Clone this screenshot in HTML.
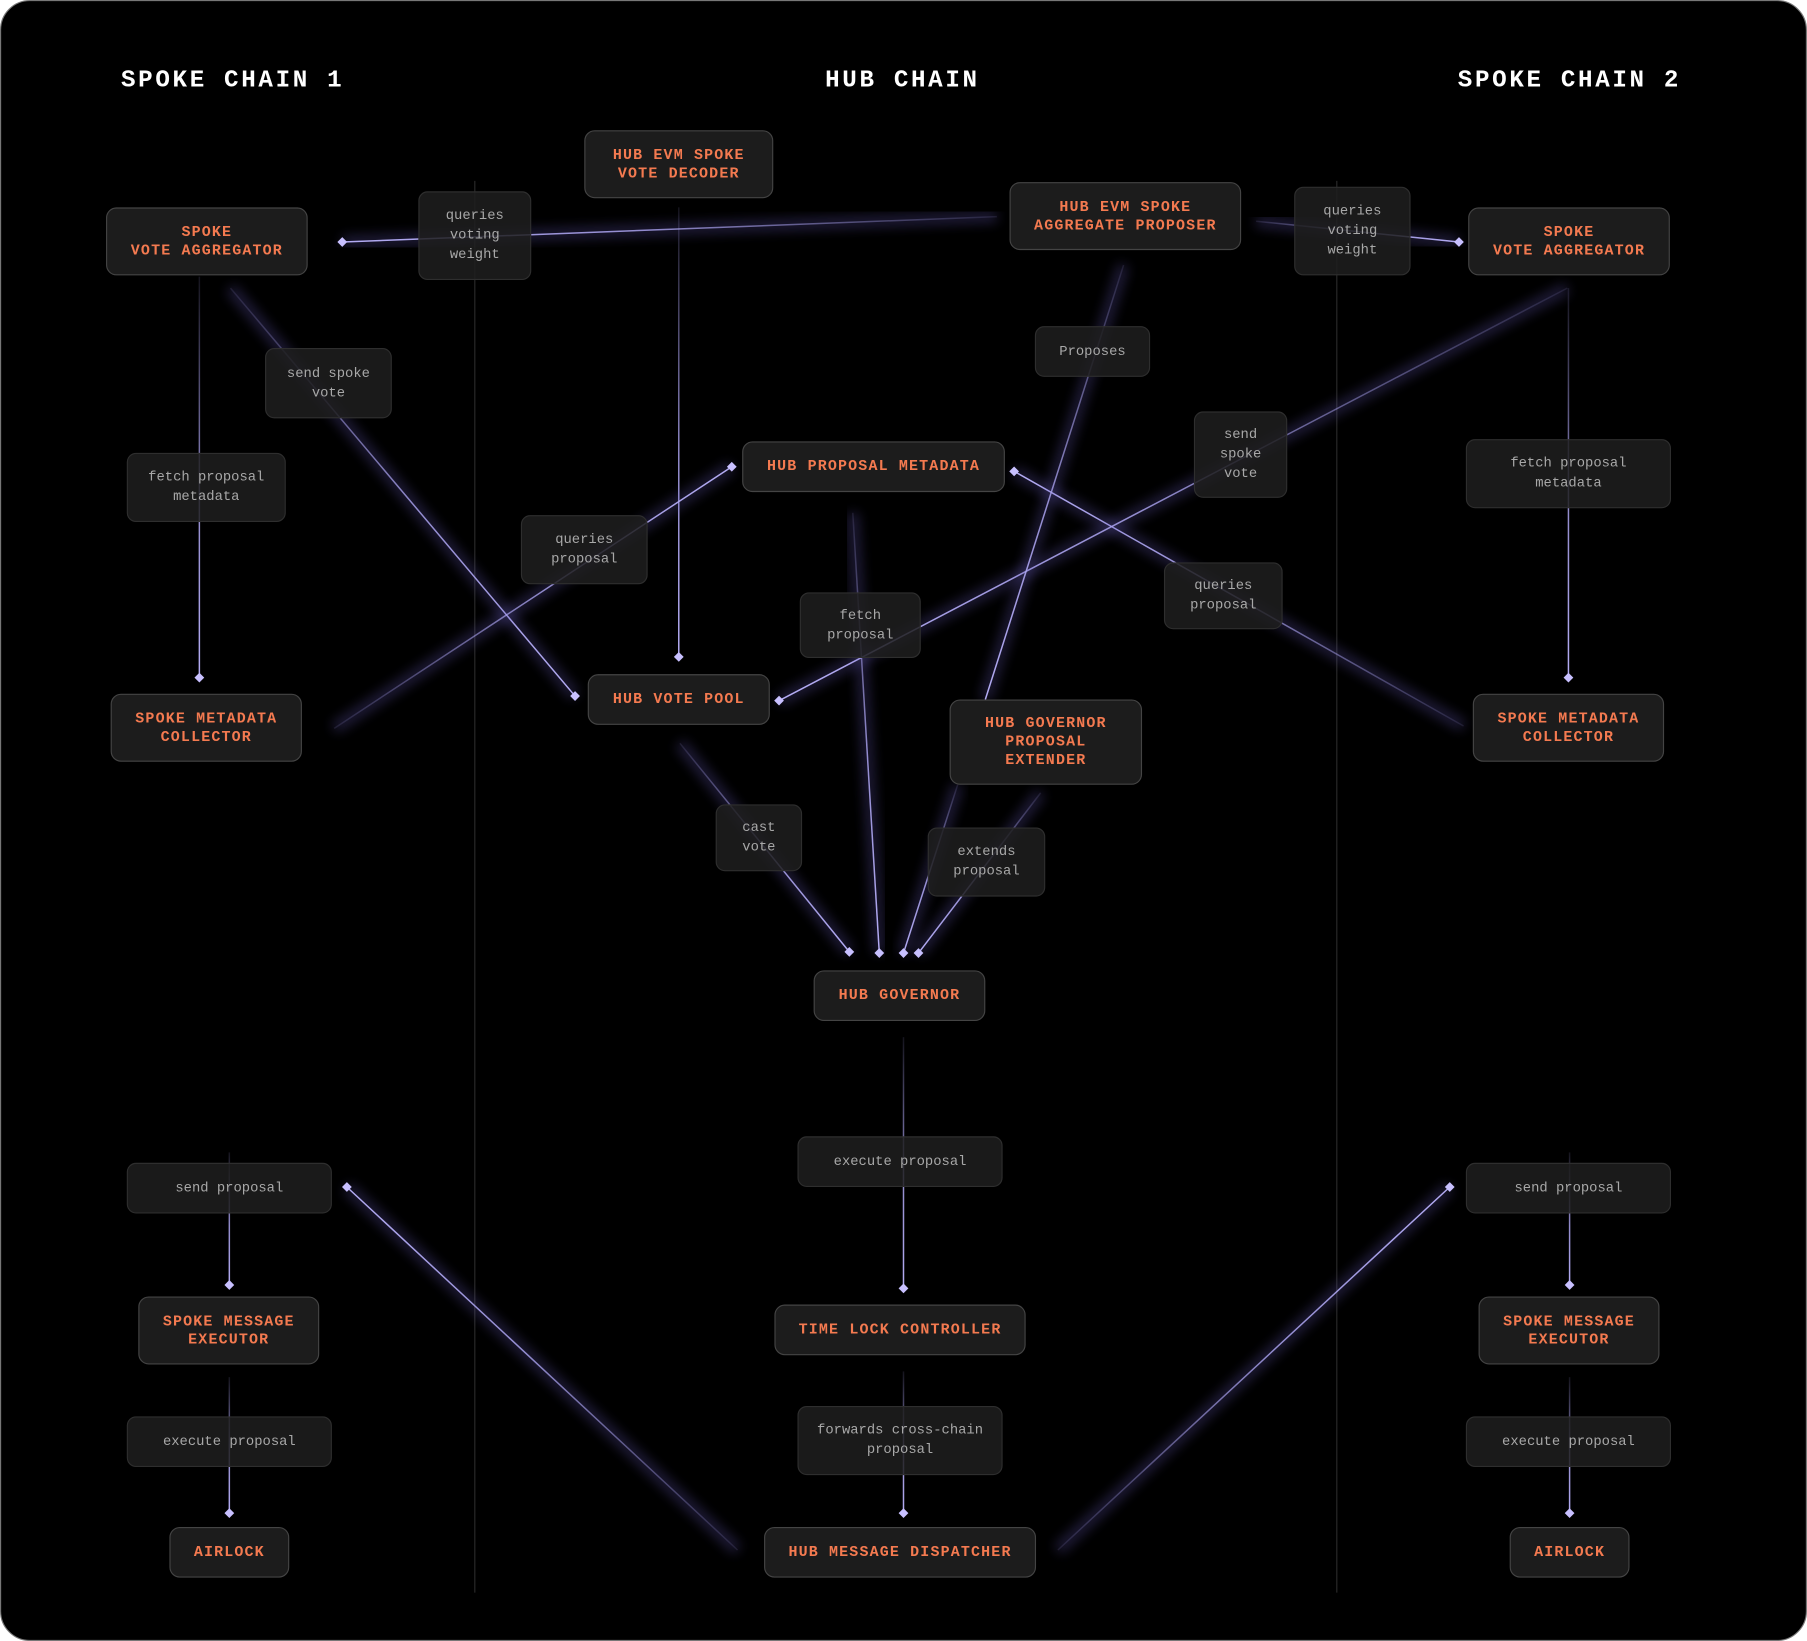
<!DOCTYPE html>
<html><head><meta charset="utf-8"><style>
html,body{margin:0;padding:0;background:#fff;}
#wrap{width:1807px;height:1641px;overflow:hidden;position:relative;background:#fff}
#c{position:absolute;left:0;top:0;width:1568px;height:1424px;transform:scale(1.15242);transform-origin:0 0;}
#bg{position:absolute;left:0;top:0;width:1566px;height:1422px;background:#000;border:1px solid #777;border-radius:26px;}
.t{position:absolute;color:#fff;font-family:"Liberation Mono",monospace;font-weight:bold;font-size:21px;letter-spacing:2.3px;top:59px;}
.n{position:absolute;box-sizing:border-box;background:#1c1c1c;border:1px solid #444;border-radius:9px;color:#f47a50;font-family:"Liberation Mono",monospace;font-weight:bold;font-size:13px;letter-spacing:1px;line-height:16px;display:flex;align-items:center;justify-content:center;text-align:center;}
.l{position:absolute;box-sizing:border-box;background:rgba(30,30,30,0.85);border:1px solid #2e2e2e;border-radius:8px;color:#a8a8a8;font-family:"Liberation Mono",monospace;font-size:12px;line-height:17px;display:flex;align-items:center;justify-content:center;text-align:center;}
svg{position:absolute;left:0;top:0}
</style></head><body><div id="wrap"><div id="c">
<div id="bg"></div>
<svg width="1568" height="1424" id="s">
<defs><filter id="g" x="-20%" y="-20%" width="140%" height="140%"><feGaussianBlur stdDeviation="5"/></filter></defs>
<line x1="412" y1="157" x2="412" y2="1382" stroke="#2a2a2a" stroke-width="1"/>
<line x1="1160" y1="157" x2="1160" y2="1382" stroke="#2a2a2a" stroke-width="1"/>
<g id="E"></g>
</svg>
<script>
var L=[[865,188,297,210],[1090,192,1266,210],[589,180,589,570],[173,240,173,588],[200,250,499,604],[290,632,635,405],[1270,630,880,409],[1360,250,676,608],[975,230,855,607,0],[831,681,784,827],[740,445,763,827],[590,645,737,826],[903,688,797,827],[1361,250,1361,588],[784,900,784,1118],[784,1190,784,1313],[199,1000,199,1115],[199,1195,199,1313],[1362,1000,1362,1115],[1362,1195,1362,1313],[640,1345,301,1030],[918,1345,1258,1030]];
var ns="http://www.w3.org/2000/svg",s=document.getElementById("s"),E=document.getElementById("E"),d=s.querySelector("defs"),h="";
L.forEach(function(a,i){
 d.insertAdjacentHTML("beforeend",'<linearGradient id="lg'+i+'" gradientUnits="userSpaceOnUse" x1="'+a[0]+'" y1="'+a[1]+'" x2="'+a[2]+'" y2="'+a[3]+'"><stop offset="0" stop-color="#aaa2ee" stop-opacity="0.12"/><stop offset="0.55" stop-color="#aaa2ee" stop-opacity="0.85"/><stop offset="1" stop-color="#b4acf4" stop-opacity="1"/></linearGradient>');
 var p='M'+a[0]+' '+a[1]+'L'+a[2]+' '+a[3];
 h+='<path d="'+p+'" stroke="#6a5fc0" stroke-width="10" opacity="0.3" filter="url(#g)" fill="none"/>';
 h+='<path d="'+p+'" stroke="url(#lg'+i+')" stroke-width="1.3" fill="none"/>';
 if(a.length<5)h+='<rect x="'+(a[2]-3)+'" y="'+(a[3]-3)+'" width="6" height="6" fill="#c8c0ff" transform="rotate(45 '+a[2]+' '+a[3]+')"/>';
});
E.innerHTML=h;
</script>
<div class="t" style="left:105px">SPOKE CHAIN 1</div>
<div class="t" style="left:716px">HUB CHAIN</div>
<div class="t" style="left:1265px">SPOKE CHAIN 2</div>

<div class="l" style="left:363px;top:166px;width:98px;height:77px">queries<br>voting<br>weight</div>
<div class="l" style="left:1123px;top:162px;width:101px;height:77px">queries<br>voting<br>weight</div>
<div class="l" style="left:230px;top:302px;width:110px;height:61px">send spoke<br>vote</div>
<div class="l" style="left:110px;top:393px;width:138px;height:60px">fetch proposal<br>metadata</div>
<div class="l" style="left:898px;top:283px;width:100px;height:44px">Proposes</div>
<div class="l" style="left:1036px;top:357px;width:81px;height:75px">send<br>spoke<br>vote</div>
<div class="l" style="left:1272px;top:381px;width:178px;height:60px">fetch proposal<br>metadata</div>
<div class="l" style="left:452px;top:447px;width:110px;height:60px">queries<br>proposal</div>
<div class="l" style="left:694px;top:514px;width:105px;height:57px">fetch<br>proposal</div>
<div class="l" style="left:1010px;top:488px;width:103px;height:58px">queries<br>proposal</div>
<div class="l" style="left:621px;top:698px;width:75px;height:58px">cast<br>vote</div>
<div class="l" style="left:805px;top:718px;width:102px;height:60px">extends<br>proposal</div>
<div class="l" style="left:692px;top:986px;width:178px;height:44px">execute proposal</div>
<div class="l" style="left:110px;top:1009px;width:178px;height:44px">send proposal</div>
<div class="l" style="left:1272px;top:1009px;width:178px;height:44px">send proposal</div>
<div class="l" style="left:692px;top:1220px;width:178px;height:60px">forwards cross-chain<br>proposal</div>
<div class="l" style="left:110px;top:1229px;width:178px;height:44px">execute proposal</div>
<div class="l" style="left:1272px;top:1229px;width:178px;height:44px">execute proposal</div>

<div class="n" style="left:92px;top:180px;width:175px;height:59px">SPOKE<br>VOTE AGGREGATOR</div>
<div class="n" style="left:507px;top:113px;width:164px;height:59px">HUB EVM SPOKE<br>VOTE DECODER</div>
<div class="n" style="left:876px;top:158px;width:201px;height:59px">HUB EVM SPOKE<br>AGGREGATE PROPOSER</div>
<div class="n" style="left:1274px;top:180px;width:175px;height:59px">SPOKE<br>VOTE AGGREGATOR</div>
<div class="n" style="left:644px;top:383px;width:228px;height:44px">HUB PROPOSAL METADATA</div>
<div class="n" style="left:96px;top:602px;width:166px;height:59px">SPOKE METADATA<br>COLLECTOR</div>
<div class="n" style="left:510px;top:585px;width:158px;height:44px">HUB VOTE POOL</div>
<div class="n" style="left:824px;top:607px;width:167px;height:74px">HUB GOVERNOR<br>PROPOSAL<br>EXTENDER</div>
<div class="n" style="left:1278px;top:602px;width:166px;height:59px">SPOKE METADATA<br>COLLECTOR</div>
<div class="n" style="left:706px;top:842px;width:149px;height:44px">HUB GOVERNOR</div>
<div class="n" style="left:672px;top:1132px;width:218px;height:44px">TIME LOCK CONTROLLER</div>
<div class="n" style="left:663px;top:1325px;width:236px;height:44px">HUB MESSAGE DISPATCHER</div>
<div class="n" style="left:120px;top:1125px;width:157px;height:59px">SPOKE MESSAGE<br>EXECUTOR</div>
<div class="n" style="left:147px;top:1325px;width:104px;height:44px">AIRLOCK</div>
<div class="n" style="left:1283px;top:1125px;width:157px;height:59px">SPOKE MESSAGE<br>EXECUTOR</div>
<div class="n" style="left:1310px;top:1325px;width:104px;height:44px">AIRLOCK</div>
</div></div></body></html>
